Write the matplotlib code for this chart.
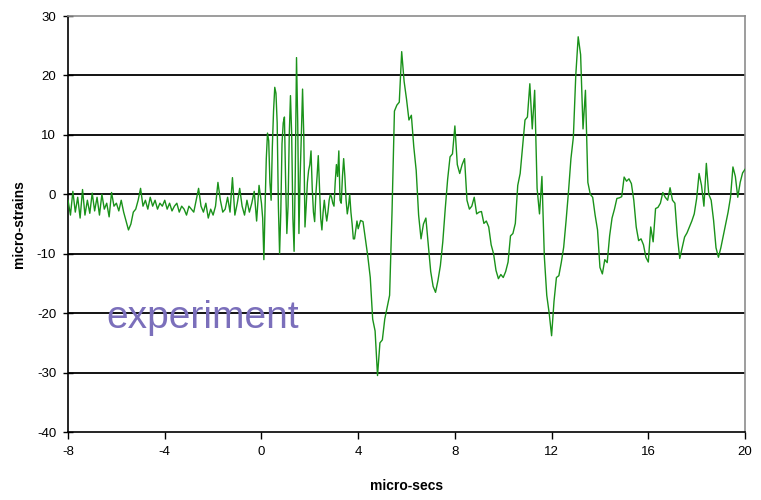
import numpy as np
import matplotlib
matplotlib.use("Agg")
import matplotlib.pyplot as plt

# ---- data (micro-strains) ----
# t = -8.0 .. -0.1, step 0.1
pre_burst = [
    -1.0, -3.5, 0.5, -3.0, -0.5, -4.0, 0.8, -3.5, -1.0, -3.2,
    0.2, -2.8, -0.5, -3.5, 0.0, -2.5, -1.5, -3.8, 0.3, -2.0,
    -1.5, -2.8, -1.0, -3.0, -4.5, -6.0, -5.0, -3.0, -2.5, -1.0,
    1.0, -2.0, -1.0, -2.5, -0.5, -2.0, -1.0, -2.5, -1.5, -2.0,
    -1.0, -2.5, -1.5, -2.8, -2.0, -1.5, -3.0, -2.0, -2.5, -3.5,
    -2.0, -2.5, -3.0, -1.0, 1.0, -2.0, -3.0, -1.5, -4.0, -2.5,
    -3.5, -2.0, 2.0, -1.0, -3.0, -2.5, -0.5, -3.0, 2.8, -3.5,
    -1.5, 1.0, -2.0, -3.5, -1.0, -3.0, -1.5, 0.5, -4.5, 1.5,
]
# t = 0.00 .. 3.95, step 0.05
burst = [
    -1.5, -4.0, -11.0, -2.0, 6.0, 10.3, 9.0, 2.0, -1.0, 8.0,
    14.0, 18.0, 17.0, 12.0, -2.0, -10.0, -3.0, 8.5, 12.0, 13.0,
    2.0, -6.6, -2.0, 10.0, 16.6, 10.0, -4.0, -9.6, 4.0, 23.0,
    12.0, -6.6, 3.0, 10.0, 17.7, 10.0, -5.5, -2.0, 2.0, 4.0,
    5.0, 7.3, 1.0, -3.0, -4.6, 0.0, 3.0, 6.5, 1.0, -4.0,
    -6.0, -3.0, -1.0, -3.0, -4.5, -3.0, -1.0, 0.0, -0.5, -1.5,
    -2.0, 2.0, 5.0, 3.0, 7.3, -1.0, -1.5, 3.0, 6.0, 3.0,
    -1.0, -3.3, -2.0, 0.0, -3.0, -5.0, -7.5, -7.5, -6.0, -4.5,
]
# t = 4.0 .. 20.0, step 0.1
post_burst = [
    -5.8, -4.4, -4.6, -7.5, -10.5, -14.0, -21.0, -23.0, -30.5, -25.0,
    -24.5, -21.0, -19.0, -17.0, -3.0, 14.0, 15.0, 15.5, 24.0, 19.0,
    16.0, 12.5, 13.3, 8.0, 4.0, -3.5, -7.5, -5.0, -4.0, -8.6,
    -13.0, -15.5, -16.5, -14.5, -12.0, -8.0, -2.5, 2.5, 6.3, 6.8,
    11.5, 5.0, 3.5, 5.0, 6.0, -1.0, -2.5, -2.0, -0.5, -3.3,
    -3.0, -2.9, -4.9, -4.5, -5.5, -8.5, -10.0, -12.8, -14.2, -13.5,
    -14.0, -13.0, -11.4, -7.0, -6.6, -4.9, 1.5, 3.5, 8.0, 12.5,
    13.0, 18.6, 11.0, 17.5, 1.0, -3.3, 3.0, -10.5, -17.0, -20.0,
    -23.8, -18.0, -14.0, -13.7, -11.5, -8.9, -4.4, 0.5, 6.0, 9.6,
    20.0, 26.5, 23.5, 11.0, 17.5, 2.0, 0.0, -0.5, -3.5, -6.0,
    -12.3, -13.4, -11.0, -11.5, -7.0, -4.0, -2.5, -0.7, -0.6, -0.4,
    2.9, 2.2, 2.6, 1.8, -1.0, -5.5, -7.8, -7.5, -8.5, -10.6,
    -11.4, -5.5, -8.0, -2.4, -2.2, -1.5, 0.3, -0.5, -1.0, 1.1,
    -1.0, -1.5, -7.0, -10.8, -9.0, -7.2, -6.5, -5.5, -4.5, -3.3,
    -0.7, 3.5, 1.5, -2.0, 5.2, 0.0, -1.0, -4.4, -9.0, -10.6,
    -9.0, -7.0, -5.0, -3.0, -0.5, 4.6, 3.0, -0.5, 2.0, 3.6,
    4.2,
]

x_ticks = [-8, -4, 0, 4, 8, 12, 16, 20]
y_ticks = [-40, -30, -20, -10, 0, 10, 20, 30]

t_pre = -8.0 + 0.1 * np.arange(len(pre_burst))
t_burst = 0.0 + 0.05 * np.arange(len(burst))
t_post = 4.0 + 0.1 * np.arange(len(post_burst))
t = np.concatenate([t_pre, t_burst, t_post])
v = np.concatenate([pre_burst, burst, post_burst])

plt.rcParams['font.family'] = ['Liberation Sans', 'DejaVu Sans']
plt.rcParams['axes.unicode_minus'] = False

fig = plt.figure(figsize=(7.61, 5.0), dpi=100)
ax = fig.add_axes([0.0894, 0.136, 0.8896, 0.832])

for yv in y_ticks[1:-1]:
    ax.axhline(yv, color='black', lw=1.3, zorder=1)

ax.plot(t, v, color='#1a921a', lw=1.0, zorder=3)

ax.set_xlim(-8, 20)
ax.set_ylim(-40, 30)
ax.set_xticks(x_ticks)
ax.set_yticks(y_ticks)
ax.tick_params(axis='y', direction='inout', length=7, width=1, labelsize=9.5, pad=5)
ax.tick_params(axis='x', direction='out', length=5, width=1, labelsize=9.5, pad=5)

for s in ['left', 'bottom']:
    ax.spines[s].set_color('black')
    ax.spines[s].set_linewidth(1.2)
for s in ['top', 'right']:
    ax.spines[s].set_color('#8c8c8c')
    ax.spines[s].set_linewidth(1.2)

ax.set_xlabel('micro-secs', fontsize=10, fontweight='bold', labelpad=15)
ax.set_ylabel('micro-strains', fontsize=10, fontweight='bold', labelpad=8)

ax.text(-6.4, -20.8, 'experiment', color='#7b6fbb', fontsize=28, va='center', ha='left')

fig.savefig('out.png', dpi=100)
